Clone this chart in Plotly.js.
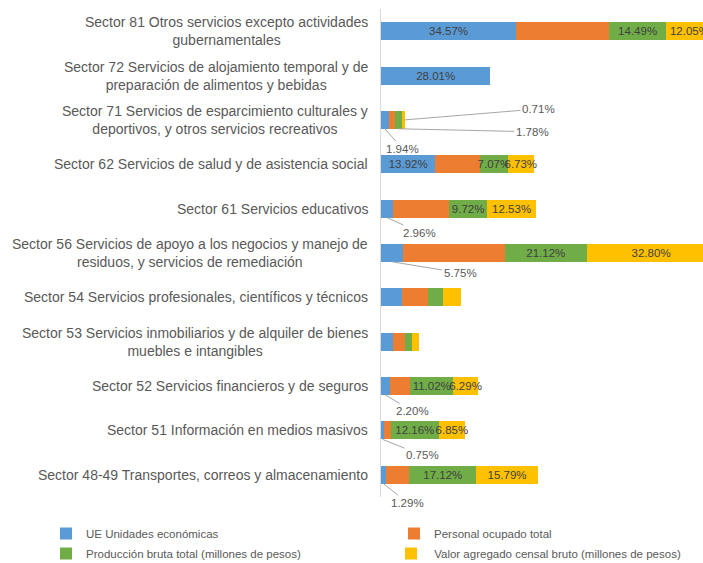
<!DOCTYPE html>
<html>
<head>
<meta charset="utf-8">
<script src="https://cdn.plot.ly/plotly-3.0.1.min.js"></script>
<style>html,body{margin:0;padding:0;background:#fff;}#chart{width:703px;height:563px;}</style>
</head>
<body>
<div id="chart"></div>
<script>
// Categories, top to bottom
const categories = [
  "Sector 81 Otros servicios excepto actividades<br>gubernamentales",
  "Sector 72 Servicios de alojamiento temporal y de<br>preparación de alimentos y bebidas",
  "Sector 71 Servicios de esparcimiento culturales y<br>deportivos, y otros servicios recreativos",
  "Sector 62 Servicios de salud y de asistencia social",
  "Sector 61 Servicios educativos",
  "Sector 56 Servicios de apoyo a los negocios y manejo de<br>residuos, y servicios de remediación",
  "Sector 54 Servicios profesionales, científicos y técnicos",
  "Sector 53 Servicios inmobiliarios y de alquiler de bienes<br>muebles e intangibles",
  "Sector 52 Servicios financieros y de seguros",
  "Sector 51 Información en medios masivos",
  "Sector 48-49 Transportes, correos y almacenamiento"
];
const seriesNames = [
  "UE Unidades económicas",
  "Personal ocupado total",
  "Producción bruta total (millones de pesos)",
  " Valor agregado censal bruto (millones de pesos)"
];
const ueValues        = [34.57, 28.01, 1.94, 13.92, 2.96, 5.75, 5.38, 2.99, 2.20, 0.75, 1.29];
const personalValues  = [23.90, 0,     1.60, 11.44, 14.50, 25.90, 6.74, 3.16, 5.29, 1.82, 5.97];
const produccionValues= [14.49, 0,     1.78, 7.07, 9.72, 21.12, 3.76, 1.88, 11.02, 12.16, 17.12];
const valorValues     = [12.05, 0,     0.71, 6.73, 12.53, 32.80, 4.52, 1.71, 6.29, 6.85, 15.79];
// label mode per point: 'in' = inside bar, 'out' = callout with leader line, '' = none
const ueLabels        = ['in','in','out','in','out','out','','','out','out','out'];
const personalLabels  = ['','','','','','','','','','',''];
const produccionLabels= ['in','','out','in','in','in','','','in','in','in'];
const valorLabels     = ['in','','out','in','in','in','','','in','in','in'];

const colors = ['#5B9BD5', '#ED7D31', '#70AD47', '#FFC000'];
const allValues = [ueValues, personalValues, produccionValues, valorValues];
const allLabels = [ueLabels, personalLabels, produccionLabels, valorLabels];
const fontFam = 'Liberation Sans, Arial, sans-serif';
const fmt = v => v.toFixed(2) + '%';
const legendIds = ['legend', 'legend2', 'legend3', 'legend4'];

const traces = allValues.map((vals, s) => ({
  type: 'bar',
  orientation: 'h',
  name: seriesNames[s],
  y: categories,
  x: vals,
  marker: {color: colors[s], line: {width: 0}},
  text: vals.map((v, i) => allLabels[s][i] === 'in' ? fmt(v) : ''),
  textposition: 'inside',
  insidetextanchor: 'middle',
  textangle: 0,
  constraintext: 'none',
  textfont: {family: fontFam, size: 11.5, color: '#404040'},
  hoverinfo: 'skip',
  legend: legendIds[s]
}));

// Callout placement (pixel offsets of label from anchor): keyed by series and category index
const callouts = {
  '0-2': {ax: 18, ay: 20, pos: 'mid', dy: 0.2},
  '2-2': {ax: 134, ay: 3, pos: 'mid', dy: 0.2},
  '3-2': {ax: 134, ay: -11, pos: 'end', dy: 0},
  '0-4': {ax: 33, ay: 15, pos: 'mid', dy: 0.2},
  '0-5': {ax: 68, ay: 11, pos: 'mid', dy: 0.2},
  '0-8': {ax: 27, ay: 16, pos: 'mid', dy: 0.2},
  '0-9': {ax: 40, ay: 16, pos: 'mid', dy: 0.2},
  '0-10': {ax: 24, ay: 19, pos: 'mid', dy: 0.2}
};

const annotations = [];
categories.forEach((c, i) => {
  annotations.push({
    xref: 'paper', yref: 'y', x: 0, y: c, xanchor: 'right', xshift: -11,
    align: 'center', text: c, showarrow: false,
    font: {family: fontFam, size: 14, color: '#595959'}
  });
});
allValues.forEach((vals, s) => {
  vals.forEach((v, i) => {
    if (allLabels[s][i] !== 'out') return;
    let start = 0;
    for (let k = 0; k < s; k++) start += allValues[k][i];
    const c = callouts[s + '-' + i];
    const xPos = c.pos === 'end' ? start + v : start + v / 2;
    annotations.push({
      xref: 'x', yref: 'y', x: xPos, y: i + c.dy,
      text: fmt(v), showarrow: true, arrowhead: 0, arrowwidth: 1,
      arrowcolor: '#a6a6a6', ax: c.ax, ay: c.ay, standoff: 0,
      font: {family: fontFam, size: 11.5, color: '#595959'}
    });
  });
});

const legendCommon = {
  orientation: 'h', xanchor: 'left', yanchor: 'top', traceorder: 'normal',
  font: {family: fontFam, size: 11.5, color: '#595959'}, bgcolor: 'rgba(0,0,0,0)'
};
const legendPos = [[-1.0404, -0.0451], [0.0404, -0.0451], [-1.0404, -0.0861], [0.031, -0.0861]];

const layout = {
  width: 703, height: 563,
  margin: {l: 381, r: 0, t: 9, b: 66, autoexpand: false},
  paper_bgcolor: '#ffffff', plot_bgcolor: '#ffffff',
  barmode: 'stack',
  bargap: 0.595,
  showlegend: true,
  xaxis: {range: [0, 82.46], showticklabels: false, showgrid: false, zeroline: false, showline: false, fixedrange: true},
  yaxis: {type: 'category', autorange: 'reversed', showticklabels: false, showgrid: false, zeroline: false,
          showline: true, linecolor: '#d9d9d9', linewidth: 1, ticks: '', fixedrange: true},
  annotations: annotations,
  hovermode: false
};
legendIds.forEach((id, k) => {
  layout[id] = Object.assign({}, legendCommon, {x: legendPos[k][0], y: legendPos[k][1]});
});

Plotly.newPlot('chart', traces, layout, {displayModeBar: false, staticPlot: true});
</script>
</body>
</html>
